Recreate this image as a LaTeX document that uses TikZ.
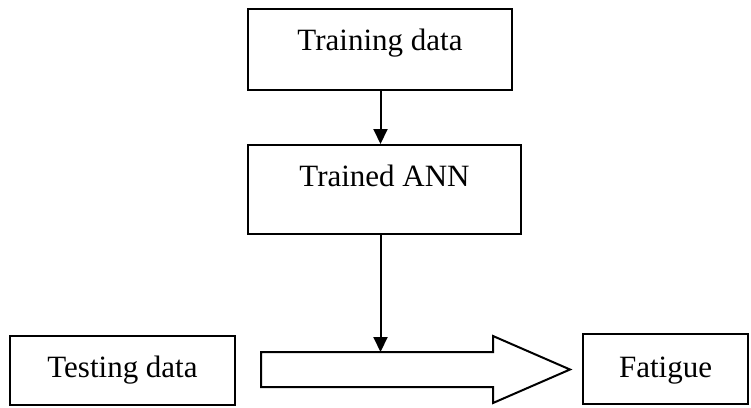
\documentclass[tikz,border=0pt]{standalone}
\usepackage{fontspec}
\setmainfont{Liberation Serif}
\usetikzlibrary{arrows.meta}
\tikzset{
  box/.style={draw,line width=2pt,rectangle,inner sep=0pt,anchor=north west,
    font=\fontsize{31}{36}\selectfont,text height=41pt},
  link/.style={line width=2pt,-{Triangle[width=14pt,length=15pt]}}
}
\begin{document}
\begin{tikzpicture}[x=1pt,y=-1pt]
\useasboundingbox (0,0) rectangle (751,407);
\node[box,minimum width=264pt,text depth=40pt](train)at(247,8){Training data};
\node[box,minimum width=273pt,text depth=48pt](ann)at(247,144){Trained ANN};
\node[box,minimum width=225pt,text depth=28pt](test)at(9,335){Testing data};
\node[box,minimum width=165pt,text height=43pt,text depth=27pt](fat)at(582,333){Fatigue};
% block arrow
\draw[line width=2pt,line join=miter](261,352)--(493,352)--(493,336)--(570,369.5)
  --(493,403)--(493,387)--(261,387)--cycle;
\coordinate(hit)at(380.5,352);
\draw[link](train.south-|hit)--(ann.north-|hit);
\draw[link](ann.south-|hit)--(hit);
\end{tikzpicture}
\end{document}
